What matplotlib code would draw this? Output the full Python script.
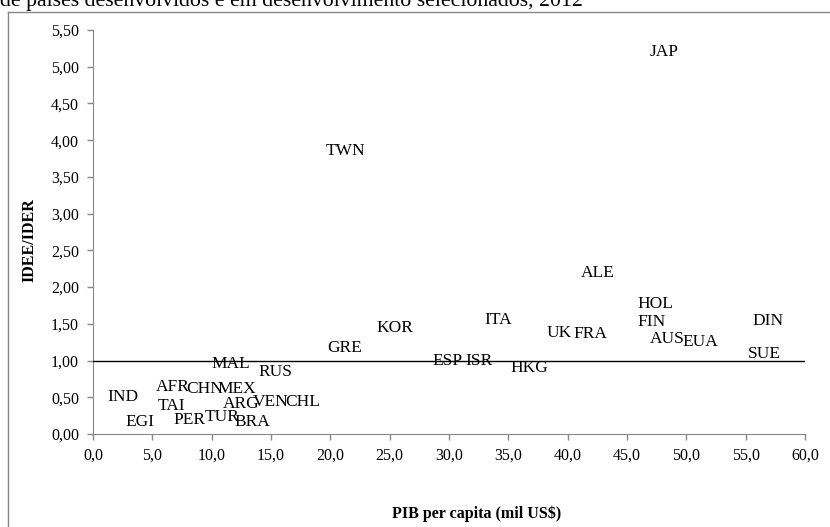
import matplotlib.pyplot as plt
from matplotlib.lines import Line2D
from matplotlib.ticker import FuncFormatter

plt.rcParams['font.family'] = ['Liberation Serif', 'DejaVu Serif']

# PIB per capita (mil US$) e IDEE/IDER, 2012
paises = ['JAP', 'TWN', 'ALE', 'HOL', 'FIN', 'AUS', 'EUA', 'DIN', 'SUE',
          'ITA', 'UK', 'FRA', 'ESP', 'ISR', 'HKG', 'KOR', 'GRE', 'MAL',
          'RUS', 'IND', 'AFR', 'CHN', 'MEX', 'TAI', 'ARG', 'VEN', 'CHL',
          'EGI', 'PER', 'TUR', 'BRA']
pib = [48.1, 21.3, 42.5, 47.4, 47.1, 48.4, 51.2, 56.9, 56.6,
       34.1, 39.3, 41.9, 29.9, 32.5, 36.8, 25.4, 21.2, 11.6,
       15.4, 2.5, 6.7, 9.4, 12.1, 6.6, 12.5, 15.0, 17.7,
       4.0, 8.1, 10.9, 13.4]
idee = [5.20, 3.85, 2.19, 1.77, 1.52, 1.29, 1.25, 1.54, 1.09,
        1.55, 1.38, 1.36, 1.00, 0.99, 0.90, 1.44, 1.17, 0.95,
        0.84, 0.51, 0.64, 0.61, 0.61, 0.38, 0.41, 0.43, 0.43,
        0.16, 0.19, 0.23, 0.16]

fig = plt.figure(figsize=(8.3, 5.27), dpi=100)
ax = fig.add_axes([0.112, 0.1765, 0.858, 0.7665])

for nome, x, y in zip(paises, pib, idee):
    ax.text(x, y, nome, ha='center', va='center', fontsize=12.5)

ax.axhline(1.0, color='black', linewidth=1, zorder=4)

ax.set_xlim(0, 60)
ax.set_ylim(0, 5.5)
ax.set_xticks(range(0, 61, 5))
ax.set_yticks([i * 0.5 for i in range(12)])
ax.xaxis.set_major_formatter(FuncFormatter(lambda v, p: f'{v:.1f}'.replace('.', ',')))
ax.yaxis.set_major_formatter(FuncFormatter(lambda v, p: f'{v:.2f}'.replace('.', ',')))
ax.tick_params(colors='#888888', labelcolor='black', labelsize=11.5, length=4.5, width=1, pad=5.5)
for s in ['top', 'right']:
    ax.spines[s].set_visible(False)
for s in ['left', 'bottom']:
    ax.spines[s].set_color('#888888')

fig.text(29 / 830, 1 - 240 / 527, 'IDEE/IDER', rotation=90, ha='center', va='center',
         fontsize=11.5, fontweight='bold')
fig.text(477 / 830, 1 - 514 / 527, 'PIB per capita (mil US$)', ha='center', va='center',
         fontsize=11.5, fontweight='bold')

# moldura do gráfico
fig.add_artist(Line2D([8 / 830, 8 / 830], [0, 1 - 12 / 527], color='#888888', linewidth=1))
fig.add_artist(Line2D([8 / 830, 1], [1 - 12 / 527, 1 - 12 / 527], color='#888888', linewidth=1))

fig.text(0.0, 1 - 6 / 527, 'de países desenvolvidos e em desenvolvimento selecionados, 2012',
         ha='left', va='baseline', fontsize=15.7)

fig.savefig('out.png', dpi=100)
